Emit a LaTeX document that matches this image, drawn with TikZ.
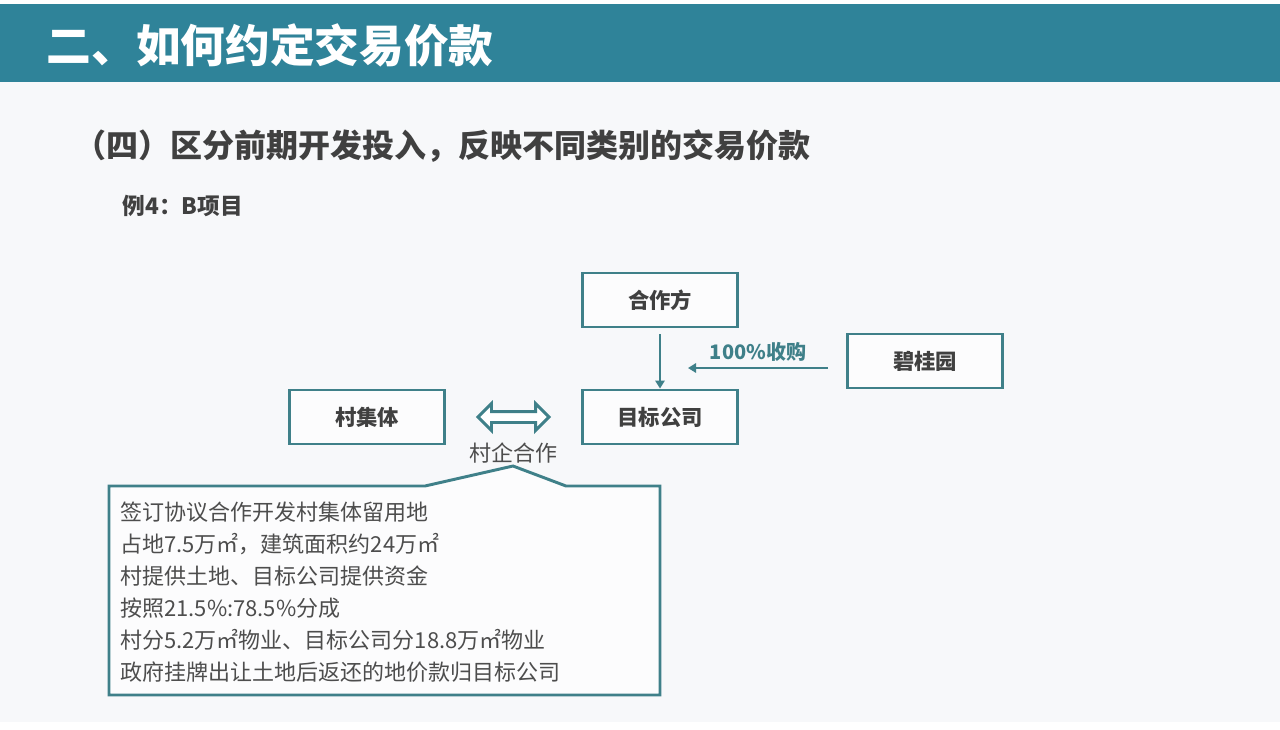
\documentclass[tikz,border=0pt]{standalone}
\usepackage{fontspec}
\setmainfont{Noto Sans CJK SC}
\usetikzlibrary{arrows.meta,shapes.arrows}

\definecolor{barteal}{HTML}{2F8399}
\definecolor{lineteal}{HTML}{3F8089}
\definecolor{pagegrey}{HTML}{F7F8FA}
\definecolor{textgrey}{HTML}{404040}
\definecolor{notegrey}{HTML}{4D4D4D}

\tikzset{
    party/.style={draw=lineteal, line width=2.2pt, fill=white!60!pagegrey,
        minimum width=155*0.75pt, minimum height=54*0.75pt, inner sep=0pt,
        font=\bfseries\fontsize{16}{18}\selectfont, text=textgrey},
    flow/.style={draw=lineteal, line width=1.5pt, -{Triangle[length=6pt,width=7pt]}},
}

\begin{document}
\begin{tikzpicture}[x=0.75pt, y=-0.75pt]
    % Page
    \useasboundingbox (0,0) rectangle (1280,729);
    \fill[white] (0,0) rectangle (1280,729);
    \fill[pagegrey] (0,4) rectangle (1280,722);

    % Title bar
    \fill[barteal] (0,4) rectangle (1280,82);
    \node[anchor=west, text=white, font=\bfseries\fontsize{33.5}{36}\selectfont] (title) at (42,45) {二、如何约定交易价款};
    \node[anchor=west, text=textgrey, font=\bfseries\fontsize{24}{26}\selectfont] (sub) at (70,146) {（四）区分前期开发投入，反映不同类别的交易价款};
    \node[anchor=west, text=textgrey, font=\bfseries\fontsize{17}{20}\selectfont] (ex) at (118,206) {例4：B项目};

    % Parties
    \node[party] (partner) at (660,300) {合作方};
    \node[party] (target) at (660,417) {目标公司};
    \node[party] (buyer) at (925,361) {碧桂园};
    \node[party] (village) at (367,417) {村集体};

    % Flows
    \draw[flow] (partner.south) ++(0,6) coordinate (p1) -- (target.north);
    \coordinate (b1) at (buyer.west |- 0,368);
    \coordinate (b2) at (688,368);
    \draw[flow] ([xshift=-13.5pt]b1) -- (b2)
        node[midway, above=1pt, text=lineteal, font=\bfseries\fontsize{15}{18}\selectfont] (buylabel) {100\%收购};

    % Village-enterprise link
    \node[double arrow, draw=lineteal, line width=2.2pt, fill=white,
        minimum height=71*0.75pt, inner sep=4*0.75pt,
        double arrow head extend=8*0.75pt] (link) at (513.5,417) {};
    \node[text=notegrey, font=\fontsize{16.5}{18}\selectfont] (linklabel) at (513.5,453) {村企合作};

    % Agreement note
    \draw[lineteal, line width=2.2pt, fill=white!60!pagegrey, line join=miter]
        (109,486) -- (425,486) -- (513,466) -- (566,486) -- (660,486)
        -- (660,695) -- (109,695) -- cycle;
    \node[anchor=north west, align=left, text=notegrey, inner sep=0pt,
        font=\fontsize{16.5}{24}\selectfont] (note) at (120,502) {%
        签订协议合作开发村集体留用地\\
        占地7.5万㎡，建筑面积约24万㎡\\
        村提供土地、目标公司提供资金\\
        按照21.5\%:78.5\%分成\\
        村分5.2万㎡物业、目标公司分18.8万㎡物业\\
        政府挂牌出让土地后返还的地价款归目标公司};
\end{tikzpicture}
\end{document}
